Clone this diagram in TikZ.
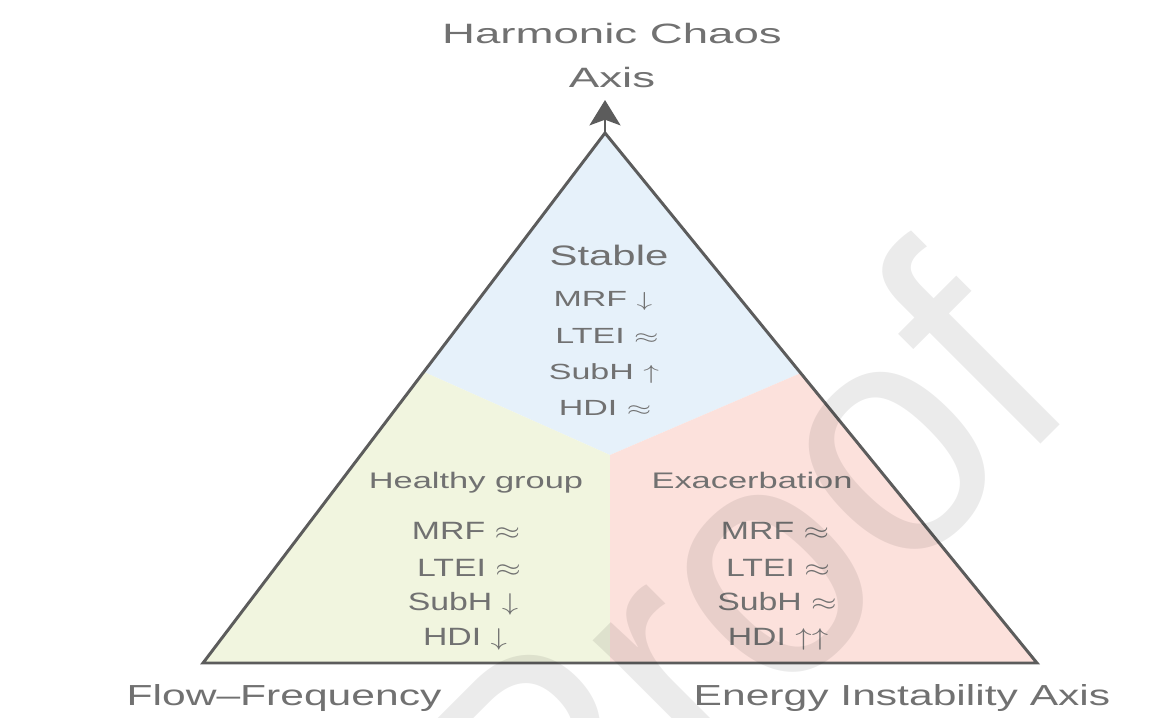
\documentclass[tikz,border=0pt]{standalone}
\usepackage{fontspec}
\setmainfont{Liberation Sans}
\usetikzlibrary{arrows.meta}

\definecolor{stableblue}{HTML}{E6F1FA}
\definecolor{healthygreen}{HTML}{F1F5DF}
\definecolor{exacred}{HTML}{FCE1DC}
\definecolor{edgegray}{HTML}{5C5C5C}
\definecolor{labelgray}{HTML}{717171}

\newcommand{\dn}{$\downarrow$}
\newcommand{\up}{$\uparrow$}
\newcommand{\eq}{$\approx$}

\begin{document}
\begin{tikzpicture}[x=0.025cm, y=-0.025cm,
    edge/.style={draw=edgegray, line width=2.1pt},
    lbl/.style={text=labelgray, inner sep=0pt, anchor=base, transform shape},
    titlelbl/.style={lbl, font=\fontsize{19.9}{24}\selectfont, xscale=1.63},
    axislbl/.style={lbl, font=\fontsize{20.6}{24}\selectfont, xscale=1.47},
    statelbl/.style={lbl, font=\fontsize{20}{24}\selectfont, xscale=1.49},
    grouplbl/.style={lbl, font=\fontsize{16}{19}\selectfont, xscale=1.53},
    toplist/.style={lbl, font=\fontsize{15.6}{19}\selectfont, xscale=1.55},
    lowlist/.style={lbl, font=\fontsize{17.8}{21}\selectfont, xscale=1.35},
    watermark/.style={inner sep=0pt, text=black, text opacity=0.08,
        font=\fontsize{240}{240}\selectfont, rotate=45, xscale=0.92}]
\useasboundingbox (0,0) rectangle (1150,717);

% corners of the triangle and the three regions
\coordinate (apex) at (605,133);
\coordinate (bl) at (203,663);
\coordinate (br) at (1037,663);
\coordinate (mid) at (610,455);
\coordinate (lcut) at (424,372);
\coordinate (rcut) at (801,373);
\coordinate (base) at (610,663);
\coordinate (tip) at (605,100);

\fill[stableblue] (apex) -- (rcut) -- (mid) -- (lcut) -- cycle;
\fill[healthygreen] (lcut) -- (mid) -- (base) -- (bl) -- cycle;
\fill[exacred] (rcut) -- (br) -- (base) -- (mid) -- cycle;
\draw[edge] (apex) -- (br) -- (bl) -- cycle;
\draw[edge, -{Stealth[length=18pt, width=22pt, inset=4pt]}] (apex) -- (tip);

% axis labels
\node[titlelbl] (title1) at (612,43) {Harmonic Chaos};
\node[titlelbl] (title2) at (612,87) {Axis};
\node[axislbl] (flow) at (284,705) {Flow–Frequency};
\node[axislbl] (energy) at (902,705) {Energy Instability Axis};

% stable
\node[statelbl] (stable) at (609,265) {Stable};
\node[toplist] (smrf) at (603,306) {MRF \dn};
\node[toplist] (sltei) at (607,343) {LTEI \eq};
\node[toplist] (ssubh) at (604,379) {SubH \up};
\node[toplist] (shdi) at (605,415) {HDI \eq};

% healthy group
\node[grouplbl] (healthy) at (476,488) {Healthy group};
\node[lowlist] (hmrf) at (466,539) {MRF \eq};
\node[lowlist] (hltei) at (469,576) {LTEI \eq};
\node[lowlist] (hsubh) at (463,610) {SubH \dn};
\node[lowlist] (hhdi) at (465,645) {HDI \dn};

% exacerbation
\node[grouplbl] (exac) at (752,488) {Exacerbation};
\node[lowlist] (emrf) at (775,539) {MRF \eq};
\node[lowlist] (eltei) at (778,576) {LTEI \eq};
\node[lowlist] (esubh) at (777,610) {SubH \eq};
\node[lowlist] (ehdi) at (778,645) {HDI \up\up};

\node[watermark] (proof) at (735,580) {Proof};
\end{tikzpicture}
\end{document}
